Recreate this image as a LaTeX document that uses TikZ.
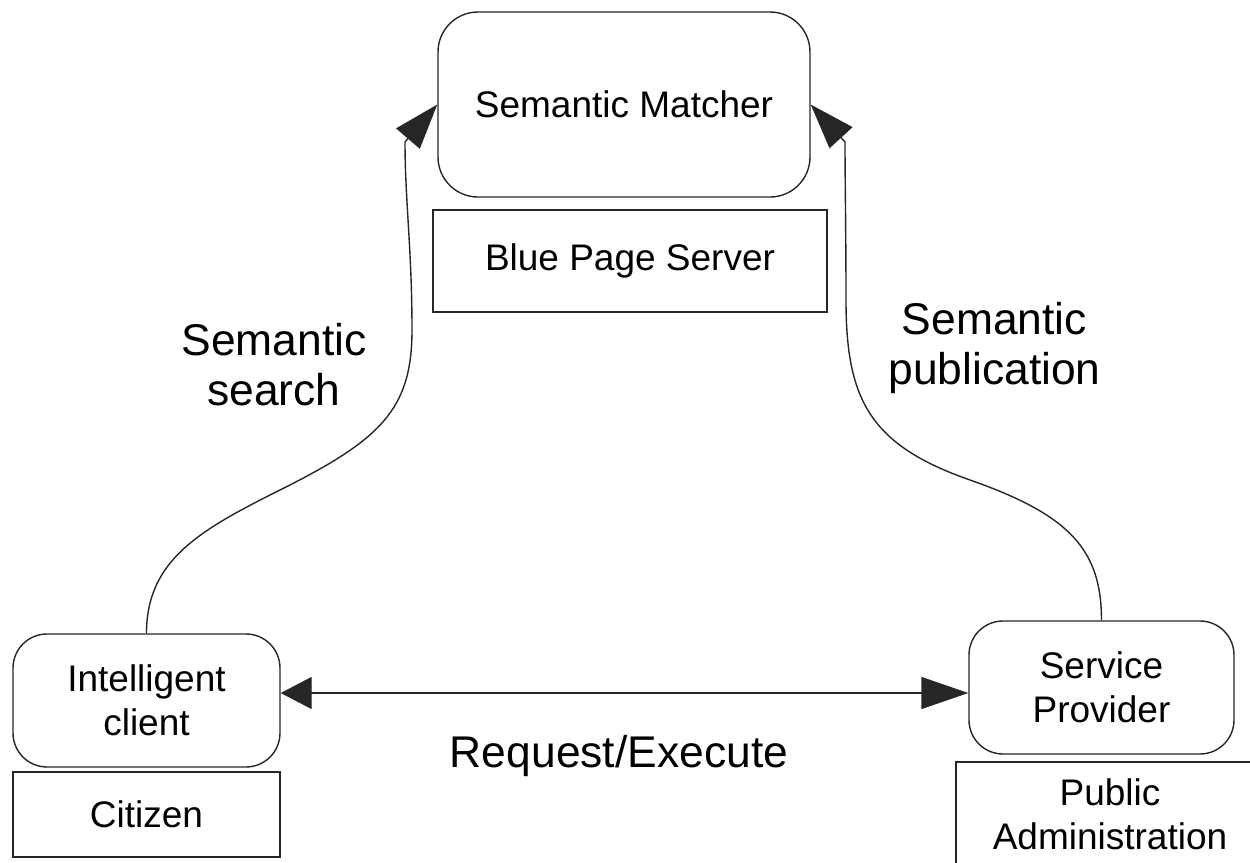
\documentclass[tikz,border=0pt]{standalone}
\usepackage{fontspec}
\setmainfont{Liberation Sans}
\usetikzlibrary{arrows.meta,calc}
\newcommand\myboxfont{\fontsize{18.5}{22}\selectfont}
\newcommand\mylblfont{\fontsize{22.2}{25}\selectfont}
\tikzset{
  rbox/.style={draw=black!85, line width=0.7pt, rounded corners=17pt, align=center, font=\myboxfont, inner sep=0pt},
  sbox/.style={draw=black!85, line width=0.7pt, align=center, font=\myboxfont, inner sep=0pt},
  lbl/.style={align=center, font=\mylblfont, inner sep=0pt},
  conn/.style={draw=black!85, line width=0.7pt},
  uptip/.style={-{Triangle[length=22.5pt,width=15.5pt]}},
  hztip/.style={{Triangle[length=15.5pt,width=16pt]}-{Triangle[length=23.5pt,width=16pt]}}
}
\begin{document}
\begin{tikzpicture}[x=0.5pt,y=-0.5pt]
\useasboundingbox (0,0) rectangle (1250,863);
\clip (0,0) rectangle (1250,863);
% boxes
\node[rbox, rounded corners=20pt, minimum width=186pt, minimum height=92.5pt] (matcher) at (624,104.5) {Semantic Matcher};
\node[sbox, minimum width=197pt, minimum height=51pt] (bps) at (630,261) {Blue Page Server};
\node[rbox, minimum width=133.5pt, minimum height=66.5pt] (client) at (146.5,700.5) {Intelligent\\client};
\node[sbox, minimum width=133.5pt, minimum height=42.5pt] (citizen) at (146.5,814.5) {Citizen};
\node[rbox, minimum width=132.5pt, minimum height=66.5pt] (provider) at (1101.5,687.5) {Service\\Provider};
\node[sbox, minimum width=154pt, minimum height=52pt] (pa) at (1110,814) {Public\\Administration};
% labels
\node[lbl] (lsearch) at (274,364.5) {Semantic\\search};
\node[lbl] (lpub) at (994.5,348) {Semantic\\publication};
\node[lbl, anchor=base] (lreq) at (619,767) {Request/Execute};
% connectors
\draw[conn, uptip] (client.north) .. controls (146.5,560) and (200,530) .. (280,490)
  .. controls (380,440) and (412,410) .. (412,330)
  .. controls (412,250) and (405,200) .. (405,142) -- (matcher.west);
\draw[conn, uptip] (provider.north) .. controls (1101.5,550) and (1070,515) .. (970,480)
  .. controls (870,445) and (846,400) .. (846,300)
  .. controls (846,230) and (845,180) .. (845,142) -- (matcher.east);
\draw[conn, hztip] ($(client.east)+(0,-7.5)$) -- ($(provider.west)+(0,5.5)$);
\end{tikzpicture}
\end{document}
